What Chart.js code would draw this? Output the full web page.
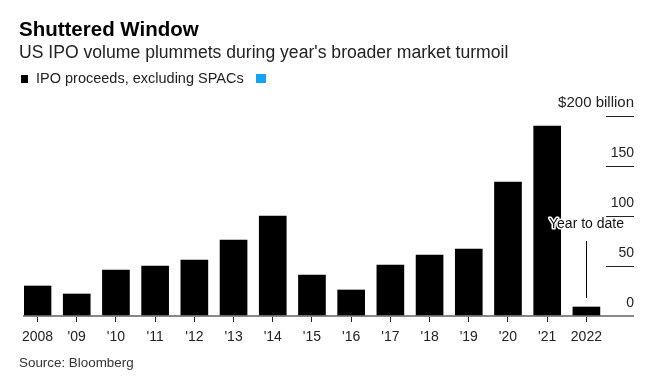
<!DOCTYPE html>
<html>
<head>
<meta charset="utf-8">
<script src="https://cdn.jsdelivr.net/npm/chart.js@4"></script>
<style>
    html, body { margin: 0; padding: 0; background: #fff; }
    #wrap { position: relative; width: 665px; height: 376px; overflow: hidden;
        font-family: "Liberation Sans", Arial, sans-serif; color: #111; }
    #wrap canvas { position: absolute; left: 0; top: 0; }
    .t { position: absolute; left: 19px; white-space: nowrap; line-height: 1; }
    .title { top: 19px; font-size: 20.5px; font-weight: bold; color: #000; }
    .sub { top: 44px; font-size: 17.6px; color: #222; }
    .legend { top: 71px; font-size: 14.5px; color: #222; }
    .legend i { display: inline-block; width: 7px; height: 8px; margin-left: 2px; margin-right: 8px; vertical-align: 0; }
    .source { top: 356px; font-size: 13.4px; color: #333; }
</style>
</head>
<body>
<div id="wrap">
    <canvas id="chart" width="665" height="376"></canvas>
    <div class="t title">Shuttered Window</div>
    <div class="t sub">US IPO volume plummets during year's broader market turmoil</div>
    <div class="t legend"><i style="background:#000"></i>IPO proceeds, excluding SPACs<i style="background:#13a3f0;margin-left:12px;width:10px;height:9px"></i></div>
    <div class="t source">Source: Bloomberg</div>
</div>
<script>
const years = ['2008', "'09", "'10", "'11", "'12", "'13", "'14", "'15", "'16", "'17", "'18", "'19", "'20", "'21", '2022'];
const proceeds = [30, 22, 46, 50, 56, 76, 100, 41, 26, 51, 61, 67, 134, 190, 9];  // $ billion
const yTicks = [0, 50, 100, 150, 200];

// "Year to date" callout on the last bar
const note = { index: 14, text: 'Year to date', textAt: 92, lineFrom: 18, lineTo: 75 };

const calloutPlugin = {
    id: 'callout',
    afterDatasetsDraw(chart) {
        const { ctx, scales: { x, y } } = chart;
        const px = Math.round(x.getPixelForValue(note.index)) + 0.5;
        ctx.save();
        ctx.strokeStyle = '#000';
        ctx.lineWidth = 1;
        ctx.beginPath();
        ctx.moveTo(px, y.getPixelForValue(note.lineFrom));
        ctx.lineTo(px, y.getPixelForValue(note.lineTo));
        ctx.stroke();

        ctx.font = '14px "Liberation Sans", Arial, sans-serif';
        ctx.textAlign = 'center';
        ctx.textBaseline = 'middle';
        ctx.lineJoin = 'round';
        ctx.lineWidth = 3;
        ctx.strokeStyle = '#fff';
        ctx.strokeText(note.text, px, y.getPixelForValue(note.textAt));
        ctx.fillStyle = '#111';
        ctx.fillText(note.text, px, y.getPixelForValue(note.textAt));
        ctx.restore();
    },
};

Chart.defaults.font.family = '"Liberation Sans", Arial, sans-serif';

new Chart(document.getElementById('chart'), {
    type: 'bar',
    data: {
        datasets: [{
            label: 'IPO proceeds, excluding SPACs',
            data: proceeds.map((v, i) => ({ x: i, y: v })),
            backgroundColor: '#000',
            barThickness: 27,
        }],
    },
    options: {
        responsive: false,
        animation: false,
        layout: { padding: { top: 116, right: 31, bottom: 20, left: 24 } },
        plugins: {
            legend: { display: false },
            tooltip: { enabled: false },
        },
        scales: {
            x: {
                type: 'linear',
                offset: false,
                min: -0.345,
                max: 14.5,
                afterBuildTicks: (scale) => { scale.ticks = years.map((_, i) => ({ value: i })); },
                afterFit: (scale) => { scale.height = 40; },
                grid: { offset: false, drawOnChartArea: false, tickLength: 6, color: '#222', lineWidth: 1 },
                border: { color: '#888', width: 2 },
                ticks: {
                    autoSkip: false,
                    maxRotation: 0,
                    padding: 7,
                    color: '#222',
                    font: { size: 14 },
                    callback: (v) => years[v],
                },
            },
            y: {
                position: 'right',
                min: 0,
                max: 200,
                afterBuildTicks: (scale) => { scale.ticks = yTicks.map(v => ({ value: v })); },
                afterFit: (scale) => { scale.width = 28; },
                grid: {
                    drawOnChartArea: false,
                    tickLength: 28,
                    color: (c) => c.tick && c.tick.value === 0 ? '#888' : '#222',
                    lineWidth: (c) => c.tick && c.tick.value === 0 ? 2 : 1,
                },
                border: { display: false },
                ticks: {
                    mirror: true,
                    padding: 28,
                    labelOffset: -13,
                    color: '#222',
                    font: (c) => ({ size: c.tick && c.tick.value === 200 ? 15 : 14 }),
                    callback: (v) => v === 200 ? '$200 billion' : v,
                },
            },
        },
    },
    plugins: [calloutPlugin],
});
</script>
</body>
</html>
